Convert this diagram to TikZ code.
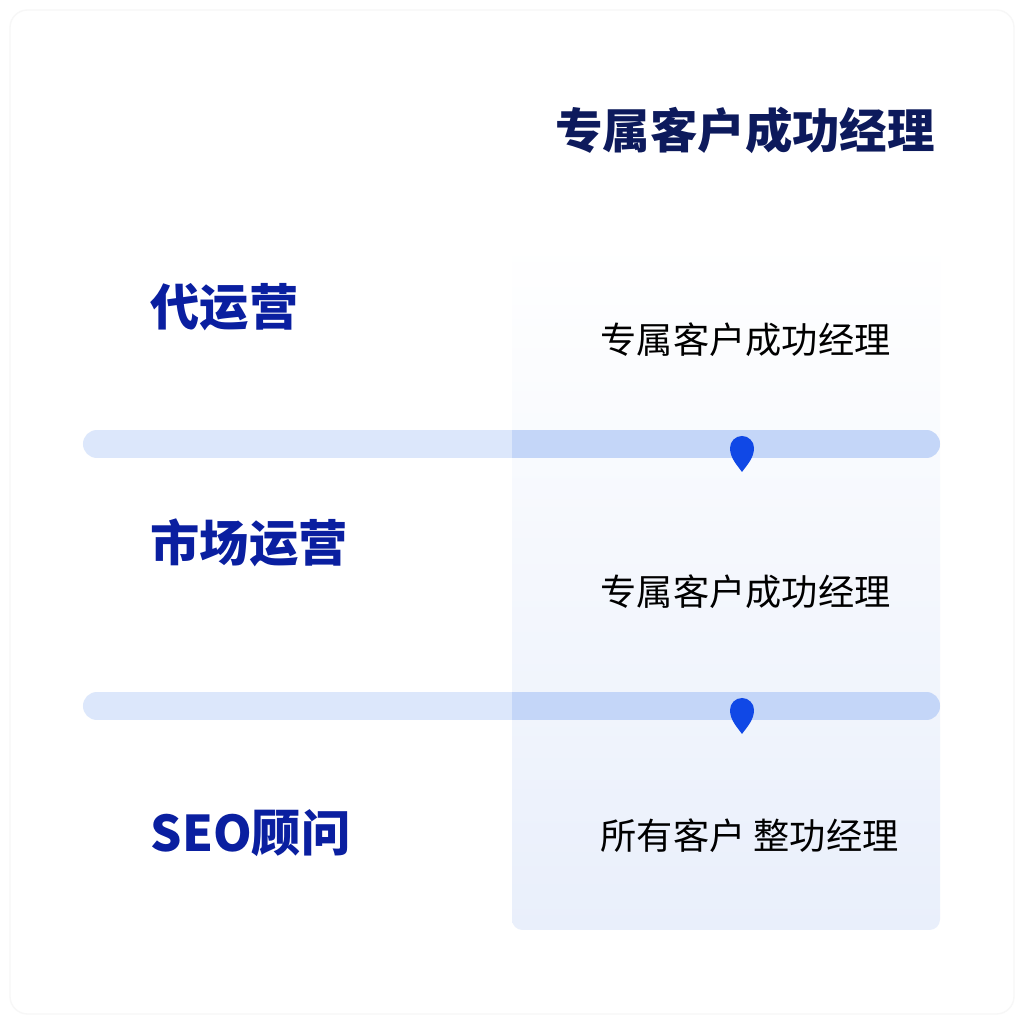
\documentclass[tikz,border=0pt]{standalone}
\usepackage{fontspec}
\newfontfamily\cjk{Noto Sans CJK SC}
\usetikzlibrary{positioning}
\definecolor{navy}{HTML}{0D1A5C}
\definecolor{labelblue}{HTML}{0A1FA0}
\definecolor{barlight}{HTML}{DCE7FB}
\definecolor{bardark}{HTML}{C4D6F8}
\definecolor{panel}{HTML}{E9EFFB}
\definecolor{pinblue}{HTML}{1048E6}
\begin{document}
\begin{tikzpicture}[x=0.01cm,y=0.01cm,
  head/.style={font=\cjk\bfseries\fontsize{13.5}{16}\selectfont,text=navy,inner sep=0pt},
  side/.style={font=\cjk\bfseries\fontsize{14}{17}\selectfont,text=labelblue,inner sep=0pt,anchor=west},
  item/.style={font=\cjk\fontsize{10.3}{13}\selectfont,text=black,inner sep=0pt,anchor=west}]
\useasboundingbox (0,0) rectangle (1024,1024);
\fill[white] (0,0) rectangle (1024,1024);
\draw[black!3,rounded corners=5pt] (10,10) rectangle (1014,1014);

% column
\shade[top color=white,bottom color=panel,rounded corners=3pt] (512,94) rectangle (940,784);

\def\bar#1{
  \draw[barlight,line width=0.28cm,line cap=round] (97,#1) -- (926,#1);
  \draw[bardark,line width=0.28cm] (512,#1) -- (926,#1);
  \draw[bardark,line width=0.28cm,line cap=round] (900,#1) -- (926,#1);
  \fill[pinblue] (742,{#1-28}) .. controls (737,{#1-21}) and (730,{#1-14}) .. (730,{#1-4}) arc[start angle=180,end angle=0,radius=12] .. controls (754,{#1-14}) and (747,{#1-21}) .. (742,{#1-28});
}
\bar{580}
\bar{318}

\node[head] (title) at (745,894) {专属客户成功经理};

\node[side] (daiyy) at (150,717) {代运营};
\node[side] (scyy) at (150,481) {市场运营};
\node[side] (seo) at (150,191) {SEO顾问};

\node[item] (r1) at (600,684) {专属客户成功经理};
\node[item] (r2) at (600,432) {专属客户成功经理};
\node[item] (r3) at (600,188) {所有客户\ 整功经理};
\end{tikzpicture}
\end{document}
